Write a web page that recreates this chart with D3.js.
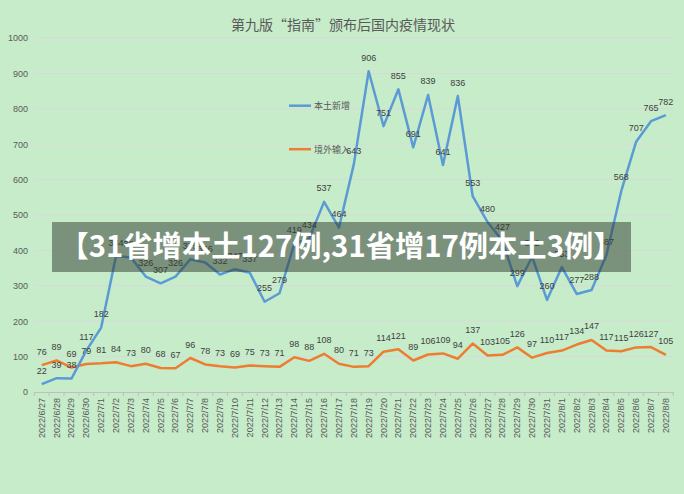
<!DOCTYPE html>
<html>
<head>
<meta charset="utf-8">
<script src="https://cdn.jsdelivr.net/npm/d3@7/dist/d3.min.js"></script>
<style>
  html, body { margin: 0; padding: 0; background: #c7ecca; }
  svg { display: block; }
</style>
</head>
<body>
<svg id="chart" width="684" height="494"></svg>
<script>
const title = "第九版“指南”颁布后国内疫情现状";
const banner = "【31省增本土127例,31省增17例本土3例】";
const dates = ["2022/6/27","2022/6/28","2022/6/29","2022/6/30","2022/7/1","2022/7/2","2022/7/3","2022/7/4","2022/7/5","2022/7/6","2022/7/7","2022/7/8","2022/7/9","2022/7/10","2022/7/11","2022/7/12","2022/7/13","2022/7/14","2022/7/15","2022/7/16","2022/7/17","2022/7/18","2022/7/19","2022/7/20","2022/7/21","2022/7/22","2022/7/23","2022/7/24","2022/7/25","2022/7/26","2022/7/27","2022/7/28","2022/7/29","2022/7/30","2022/7/31","2022/8/1","2022/8/2","2022/8/3","2022/8/4","2022/8/5","2022/8/6","2022/8/7","2022/8/8"];
const localNew = [22,39,38,117,182,384,380,326,307,326,375,366,332,347,337,255,279,419,434,537,464,643,906,751,855,691,839,641,836,553,480,427,299,382,260,353,277,288,387,568,707,765,782];
const imported = [76,89,69,79,81,84,73,80,68,67,96,78,73,69,75,73,71,98,88,108,80,71,73,114,121,89,106,109,94,137,103,105,126,97,110,117,134,147,117,115,126,127,105];
const seriesNames = ["本土新增","境外输入"];
const seriesColors = ["#5b9bd5","#ed7d31"];
const yTicks = [0,100,200,300,400,500,600,700,800,900,1000];

const svg = d3.select("#chart");
svg.append("rect").attr("width",684).attr("height",494).attr("fill","#c7ecca");

const x = d3.scaleBand().domain(dates).range([34.3, 673.3]).padding(0);
const cx = d => x(d) + x.bandwidth()/2;
const y = d3.scaleLinear().domain([0,1000]).range([392, 38]);

// title
svg.append("text").attr("x",343).attr("y",30).attr("text-anchor","middle")
  .attr("font-family","'Noto Sans CJK SC', sans-serif").attr("font-size",14)
  .attr("fill","#595959").text(title);

// gridlines
svg.append("g").selectAll("line").data(yTicks.filter(t=>t>0)).join("line")
  .attr("x1",34.3).attr("x2",673.3).attr("y1",d=>y(d)).attr("y2",d=>y(d))
  .attr("stroke","#d9d9d9").attr("stroke-width",1);

// y axis labels
const yAxis = d3.axisLeft(y).tickValues(yTicks).tickFormat(d3.format("d")).tickSize(0).tickPadding(0);
const gy = svg.append("g").attr("transform","translate(28,0)").call(yAxis);
gy.select(".domain").remove();
gy.selectAll("text").attr("font-family","'Liberation Sans', Arial, sans-serif")
  .attr("font-size",9).attr("fill","#595959");

// x axis
const xAxis = d3.axisBottom(x).tickSize(0).tickPadding(0);
const gx = svg.append("g").attr("transform","translate(0,392)").call(xAxis);
gx.select(".domain").attr("stroke","#bfbfbf");
gx.selectAll(".tick line").remove();
gx.selectAll("text")
  .attr("font-family","'Liberation Sans', Arial, sans-serif").attr("font-size",9)
  .attr("fill","#595959").attr("text-anchor","end")
  .attr("transform","translate(3,6) rotate(-90)").attr("dy",0).attr("y",0);
// tick marks at band boundaries
const bounds = dates.map(d=>x(d)).concat([x(dates[dates.length-1])+x.bandwidth()]);
svg.append("g").selectAll("line").data(bounds).join("line")
  .attr("x1",d=>d).attr("x2",d=>d).attr("y1",392).attr("y2",396)
  .attr("stroke","#bfbfbf").attr("stroke-width",1);

// lines
const series = [localNew, imported];
const line = d3.line().x((v,i)=>cx(dates[i])).y(v=>y(v));
series.slice().reverse().forEach((s,k)=>{
  const idx = series.length-1-k;
  svg.append("path").datum(s).attr("d",line).attr("fill","none")
    .attr("stroke",seriesColors[idx]).attr("stroke-width",2.5)
    .attr("stroke-linejoin","round");
});

// data labels
series.forEach((s)=>{
  svg.append("g").selectAll("text").data(s).join("text")
    .attr("x",(v,i)=>cx(dates[i])).attr("y",v=>y(v)-10.5)
    .attr("text-anchor","middle")
    .attr("font-family","'Liberation Sans', Arial, sans-serif").attr("font-size",9)
    .attr("fill","#404040").text(v=>v);
});

// legend
const legend = svg.append("g");
seriesNames.forEach((n,i)=>{
  const ly = 105.7 + i*43.5;
  legend.append("line").attr("x1",289).attr("x2",311).attr("y1",ly).attr("y2",ly)
    .attr("stroke",seriesColors[i]).attr("stroke-width",2.5);
  legend.append("text").attr("x",314).attr("y",ly+3.5)
    .attr("font-family","'Noto Sans CJK SC', sans-serif").attr("font-size",9)
    .attr("fill","#595959").text(n);
});

// banner overlay
svg.append("rect").attr("x",52).attr("y",222).attr("width",579).attr("height",50)
  .attr("fill","rgba(45,55,45,0.5)");
svg.append("text").attr("x",341).attr("y",257).attr("text-anchor","middle")
  .attr("font-family","'Noto Sans CJK SC', sans-serif").attr("font-weight","bold")
  .attr("font-size",29).attr("fill","#ffffff")
  .attr("textLength",563).attr("lengthAdjust","spacingAndGlyphs")
  .text(banner);
</script>
</body>
</html>
